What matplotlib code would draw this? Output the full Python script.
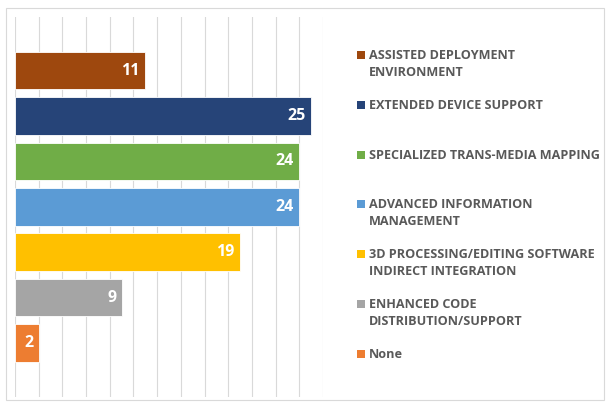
import matplotlib

matplotlib.use("Agg")

import matplotlib.pyplot as plt
from matplotlib.patches import Rectangle

categories = [
    "ASSISTED DEPLOYMENT\nENVIRONMENT",
    "EXTENDED DEVICE SUPPORT",
    "SPECIALIZED TRANS-MEDIA MAPPING",
    "ADVANCED INFORMATION\nMANAGEMENT",
    "3D PROCESSING/EDITING SOFTWARE\nINDIRECT INTEGRATION",
    "ENHANCED CODE\nDISTRIBUTION/SUPPORT",
    "None",
]
counts = [11, 25, 24, 24, 19, 9, 2]
colors = ["#9E480E", "#264478", "#70AD47", "#5B9BD5", "#FFC000", "#A5A5A5", "#ED7D31"]

GRID = "#d9d9d9"
TEXT = "#595959"
W, H = 606, 403

fig = plt.figure(figsize=(W / 100, H / 100), dpi=100, facecolor="white")
ax = fig.add_axes([15 / W, 1 - 397 / H, (323 - 15) / W, (397 - 17) / H])

ypos = list(range(len(counts)))
bars = ax.barh(ypos, counts, height=0.83, color=colors, edgecolor="white", linewidth=0.6, zorder=2)
for bar, value in zip(bars, counts):
    ax.text(
        bar.get_width() - 0.45,
        bar.get_y() + bar.get_height() / 2,
        str(value),
        ha="right",
        va="center",
        color="white",
        fontsize=11.5,
        fontweight="bold",
        family="Open Sans",
    )

ax.set_xlim(0, 26)
ax.set_ylim(7.19, -1.18)
ax.set_xticks(range(0, 27, 2))
ax.grid(axis="x", color=GRID, linewidth=0.8, zorder=0)
ax.tick_params(length=0, labelbottom=False, labelleft=False)
for spine in ax.spines.values():
    spine.set_visible(False)

# outer chart border
fig.add_artist(Rectangle((6 / W, 1 - 400 / H), 598 / W, 392 / H, transform=fig.transFigure,
                         fill=False, edgecolor=GRID, linewidth=0.8))

# legend, Excel style: fixed step between entries
for i, (label, color) in enumerate(zip(categories, colors)):
    y = 55 + i * 49.8
    fig.add_artist(Rectangle((357 / W, 1 - (y + 4) / H), 8 / W, 8 / H, transform=fig.transFigure,
                             facecolor=color, edgecolor="none"))
    fig.text(369 / W, 1 - (y - 6) / H, label, ha="left", va="top", fontsize=9.1,
             fontweight="bold", color=TEXT, family="Open Sans", linespacing=1.4)

fig.savefig("out.png", dpi=100, facecolor="white")
